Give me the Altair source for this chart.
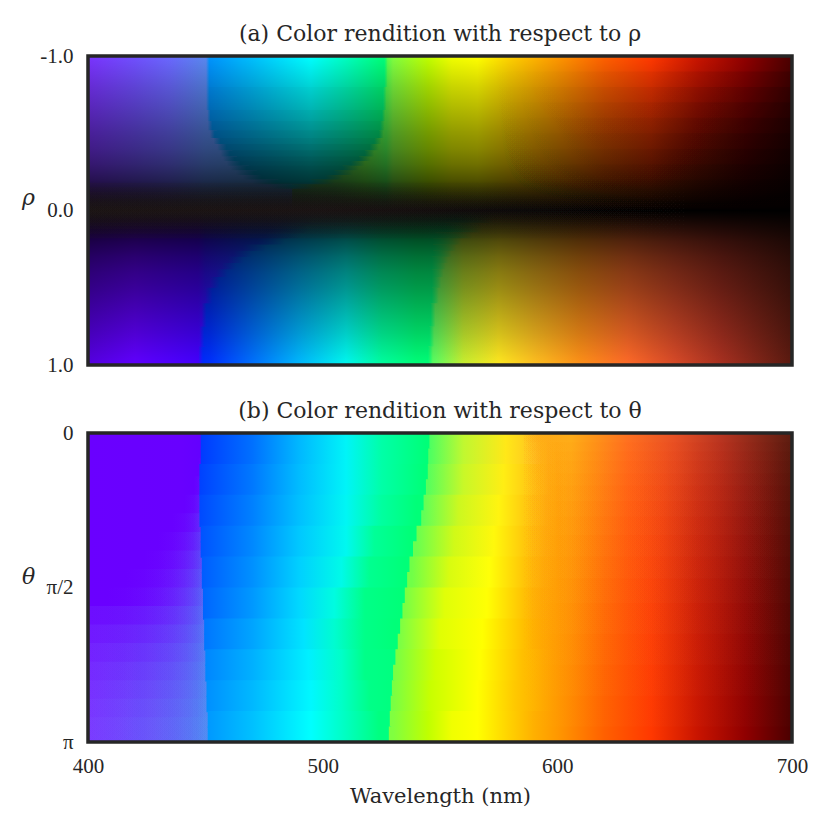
import altair as alt
import pandas as pd

INK = "#262626"
FONT = "Liberation Serif"
TFONT = "DejaVu Serif"

# panel (a) hue regions: colour stops "wavelength hex ..."
TOP_L = "400 7a33ff 420 7050ff 435 6a68ff 450 5a88f0 465 5090e0 490 4090d0"
TOP_M = "450 0090ff 470 00c0ff 495 00ffff 510 00ffc0 524 00ff80 530 00ff70"
TOP_R = "485 40a060 505 50c050 518 60e840 527 50ff50 530 80ff40 545 c0ff00 555 f0ff00 566 ffff00 580 ffd000 600 ff9800 620 ff6000 640 ff3800 660 c81400 680 900000 700 4a0000"
BOT_L = "400 5500e0 420 6000ff 447 4400ff 450 3010ff 470 1040ff 490 0060ff"
BOT_M = "447 0028ff 452 0030ff 470 0070ff 490 00b8ff 510 00f8f0 525 00ffa0 540 00ff78 570 00ff70"
BOT_R = "545 50ff60 548 60ff60 560 c8f030 575 ffe820 590 ffc020 610 ff9018 630 ff6a28 650 d84a28 670 a83020 700 5a1a10"

# rho at the band's start, left and right hue boundary, shade of the middle region, edge softness
TOP_RHO = [-1.0, -0.8, -0.65, -0.58, -0.52, -0.47, -0.43, -0.39, -0.35, -0.32, -0.29, -0.26, -0.23, -0.2, -0.17, -0.14, 0.0]
TOP_BL = [451, 451, 451.5, 452, 453, 455, 457, 458.5, 460, 462, 464, 467, 470, 475, 482, 487]
TOP_BR = [527, 526.5, 526, 525.5, 525, 523.5, 522, 520, 518, 515, 512, 509, 505, 500, 492, 487]
TOP_MS = [0, 0.02, 0.05, 0.08, 0.11, 0.14, 0.18, 0.22, 0.25, 0.27, 0.29, 0.3, 0.3, 0.3, 0.25, 0.25]
TOP_SOFT = [0.7, 0.7, 0.7, 1, 1, 1.5, 2, 2, 2.5, 3, 3.5, 4, 4, 5, 5, 0]
BOT_RHO = [0.0, 0.08, 0.14, 0.18, 0.22, 0.26, 0.3, 0.34, 0.38, 0.43, 0.5, 0.6, 0.75, 0.88, 1.0]
BOT_BL = [488, 486, 483, 478, 471, 466, 463, 460, 457, 454, 451.5, 449.5, 448.5, 448]
BOT_BR = [565, 560, 556, 553, 552, 551, 550, 549.5, 549, 548.5, 548, 547, 546.5, 546]
BOT_MS = [0] * 14
BOT_SOFT = [8, 8, 8, 6, 5, 4, 3.5, 3, 2.5, 2, 1.5, 1, 1, 1]

# darkening towards rho = 0
DARK_POS = [0, 0.1, 0.2, 0.25, 0.3, 0.35, 0.4, 0.425, 0.45, 0.475, 0.5, 0.525, 0.55, 0.575, 0.6, 0.65, 0.7, 0.75, 0.8, 0.9, 1]
DARK_ALPHA = [0, 0.17, 0.32, 0.4, 0.47, 0.56, 0.68, 0.76, 0.84, 0.92, 1, 0.92, 0.84, 0.76, 0.68, 0.56, 0.47, 0.4, 0.32, 0.17, 0]
# extra darkening of the long wavelengths, top half
EDGE_RHO = [-0.9, -0.8, -0.7, -0.6, -0.5, -0.4, -0.3, -0.2]
EDGE_STOPS = [(570, 0), (600, 0.015), (640, 0.045), (670, 0.09), (700, 0.13)]
# faint brown floor at rho = 0
FLOOR_RHO = [0.18, 0.15, 0.12, 0.1, 0.08, 0.06, 0.045, 0.03, 0.015]
FLOOR_STOPS = [(400, 0.12), (500, 0.11), (560, 0.06), (620, 0.015), (660, 0)]

# panel (b)
B_LEFT = "400 6a00ff 440 6800ff 447 6400ff 452 6000ff"
# lighter patch that grows to the left going down: start of rows, start wavelength, alpha there, alpha at 450
B_PATCH_F = [0.08, 0.14, 0.2, 0.26, 0.32, 0.38, 0.44, 0.5, 0.56, 0.62, 0.68, 0.74, 0.8, 0.86, 0.92]
B_PATCH_S = [447, 445, 441, 436, 430, 424, 416, 408, 400, 400, 400, 400, 400, 400, 400]
B_PATCH_A = [0, 0, 0, 0, 0, 0, 0, 0, 0.17, 0.17, 0.17, 0.17, 0.17, 0.17, 0.17]
B_PATCH_TOP = 0.16

B_MID = [
 "447 0038ff 470 0070ff 490 00b8ff 510 00f4f8 525 00ffa8 544 00ff78 560 00ff78",
 "447 0040ff 470 0078ff 490 00bcff 510 00f4f8 525 00ffa8 543 00ff78 560 00ff78",
 "447 0048ff 470 0080ff 490 00c0ff 510 00f6f4 525 00ffa0 540 00ff78 560 00ff78",
 "447 0050ff 470 0088ff 490 00c8ff 510 00f8f0 522 00ff98 537 00ff78 560 00ff78",
 "447 0058ff 470 0090ff 490 00d0ff 508 00fae8 520 00ff90 535 00ff78 560 00ff78",
 "447 0060ff 470 0098ff 490 00d8ff 505 00fce0 518 00ff88 533 00ff78 560 00ff78",
 "447 0070ff 470 00a4ff 492 00e4ff 505 00fcd0 518 00ff88 531 00ff78 560 00ff78",
 "447 0080ff 470 00b0ff 494 00f0ff 508 00ffc8 518 00ff88 529 00ff80 560 00ff80",
 "447 0088ff 470 00b8ff 495 00f8ff 508 00ffc8 520 00ff88 528 00ff80 560 00ff80",
 "447 0090ff 470 00c0ff 495 00ffff 510 00ffc0 524 00ff80 527 00ff80 560 00ff80",
]
B_TAIL = " 600 ff9800 620 ff6000 640 ff3800 660 c81400 680 900000 700 4a0000"
B_RIGHT = [
 "520 50ff60 546 50ff60 560 c0f830 578 ffe818 590 ffc420",
 "520 58ff5c 545 58ff5c 560 c8f828 577 ffee14 590 ffc214",
 "520 60ff58 543 60ff58 558 ccf820 575 fff410 590 ffbc10",
 "520 68ff50 540 68ff50 556 d0fa18 573 fff80c 590 ffb80c",
 "520 70ff48 538 70ff48 554 d8fc10 571 ffff08 590 ffb408",
 "520 78ff44 535 78ff44 552 e0ff08 570 ffff04 590 ffb004",
 "520 7cff44 533 7cff44 550 e0ff04 568 ffff00 590 ffb000",
 "520 78ff44 531 78ff44 548 d0ff00 567 ffff00 585 ffc000 590 ffb400",
 "520 78ff44 530 78ff44 546 c8ff00 566 ffff00 582 ffc800 590 ffb400",
 "520 80ff40 530 80ff40 545 c0ff00 555 f0ff00 566 ffff00 580 ffd000 590 ffb000",
]
# brown top right: wavelength and colour, and where each fade band ends
B_FADE_STOPS = [(606, "255,172,24"), (615, "255,150,24"), (630, "255,112,32"), (650, "232,80,36"), (670, "184,52,32"), (700, "92,28,16")]
B_FADE_F = [0.95, 0.85, 0.75, 0.65, 0.55, 0.47, 0.4, 0.33, 0.27, 0.22, 0.17, 0.13, 0.09, 0.06, 0.03]
# boundaries per 1/20 of the panel height
B_BLUE = [448, 448, 447.5, 447.5, 447.5, 447.5, 448, 448, 448.5, 448.5, 449, 449, 449.5, 449.5, 450, 450, 450.5, 450.5, 451, 451]
B_GREEN = [545.5, 545, 544.8, 544, 543, 542, 540, 538.5, 537, 536, 535, 534, 533, 532, 531, 530, 529.5, 529, 528.6, 528.2]

X_TICKS = [400, 500, 600, 700]
RHO_TICKS = [-1, 0, 1]
THETA_TICKS = [0, 0.5, 1]
TITLE_A = "(a) Color rendition with respect to ρ"
TITLE_B = "(b) Color rendition with respect to θ"
XLABEL = "Wavelength (nm)"


def grad(spec, xa=400, xb=700):
    parts = spec.split()
    stops = [alt.GradientStop(color="#" + parts[i + 1], offset=(float(parts[i]) - 400) / 300)
             for i in range(0, len(parts), 2)]
    w = xb - xa
    return alt.LinearGradient(gradient="linear", stops=stops, x1=(400 - xa) / w, x2=(700 - xa) / w, y1=0, y2=0)


def rgba_grad(triples, xa=400, xb=700):
    stops = [alt.GradientStop(color=f"rgba({c},{a})", offset=(w - xa) / (xb - xa)) for w, c, a in triples]
    return alt.LinearGradient(gradient="linear", stops=stops, x1=0, x2=1, y1=0, y2=0)


def soft_grad(spec, a, b, s, shade):
    """Middle region's gradient with its two sides fading out over s nanometres."""
    parts = spec.split()
    pts = [(float(parts[i]), parts[i + 1]) for i in range(0, len(parts), 2)]

    def col(x):
        rgb = [tuple(int(h[k:k + 2], 16) for k in (0, 2, 4)) for _, h in pts]
        if x <= pts[0][0]:
            c = rgb[0]
        elif x >= pts[-1][0]:
            c = rgb[-1]
        else:
            for i in range(len(pts) - 1):
                if pts[i][0] <= x <= pts[i + 1][0]:
                    t = (x - pts[i][0]) / (pts[i + 1][0] - pts[i][0])
                    c = tuple(rgb[i][k] + t * (rgb[i + 1][k] - rgb[i][k]) for k in range(3))
                    break
        return ",".join(str(round(v * (1 - shade))) for v in c)

    inner_a, inner_b = a + s, b - s
    if inner_a > inner_b:
        inner_a = inner_b = (a + b) / 2
    xs = [inner_a] + [w for w, _ in pts if inner_a < w < inner_b] + ([inner_b] if inner_b > inner_a else [])
    tr = [(a - s, col(a - s), 0)] + [(x, col(x), 1) for x in xs] + [(b + s, col(b + s), 0)]
    return rgba_grad(tr, a - s, b + s)


axis_common = dict(ticks=False, domain=False, grid=False, labelFont=FONT, labelFontSize=21,
                   labelColor=INK, titleFont=TFONT, titleColor=INK, titleFontWeight="normal",
                   labelFlush=False)
y_a = alt.Axis(values=RHO_TICKS, title="ρ", titleAngle=0, titleX=-60, titleY=141,
               labelExpr="datum.value == -1 ? '-1.0' : datum.value == 0 ? '0.0' : '1.0'",
               titleAlign="center", titleBaseline="middle", titleFontSize=22, titleFontStyle="italic",
               labelPadding=15, labelOverlap=False, **axis_common)
y_b = alt.Axis(values=THETA_TICKS, title="θ", titleAngle=0, titleX=-60, titleY=143,
               labelExpr="datum.value == 0 ? '0' : datum.value == 1 ? 'π' : 'π/2'",
               titleAlign="center", titleBaseline="middle", titleFontSize=22, titleFontStyle="italic",
               labelPadding=15, labelOverlap=False, **axis_common)
x_b = alt.Axis(values=X_TICKS, format="d", labelPadding=13, title=XLABEL, titleFontSize=21, titlePadding=9,
               labelOverlap=False, **axis_common)


def maker(ydom, yaxis, xaxis):
    xs = alt.Scale(domain=[400, 700], nice=False, zero=False)
    ys = alt.Scale(domain=ydom, nice=False, zero=False)

    def rect(lo, hi, xa, xb, **mark):
        df = pd.DataFrame({"a": [xa], "b": [xb], "lo": [lo], "hi": [hi]})
        return alt.Chart(df).mark_rect(**mark).encode(
            x=alt.X("a:Q", scale=xs, axis=xaxis),
            x2="b:Q",
            y=alt.Y("lo:Q", scale=ys, axis=yaxis),
            y2="hi:Q",
        )
    return rect


def title(text):
    return alt.TitleParams(text, font=TFONT, fontSize=22, fontWeight="normal", color=INK, offset=-1)


# panel (a)
rect_a = maker([1, -1], y_a, None)
layers_a = []
for edges, bl, br, ms, sf, L, M, R in [
    (TOP_RHO, TOP_BL, TOP_BR, TOP_MS, TOP_SOFT, TOP_L, TOP_M, TOP_R),
    (BOT_RHO, BOT_BL, BOT_BR, BOT_MS, BOT_SOFT, BOT_L, BOT_M, BOT_R),
]:
    for i in range(len(bl)):
        lo, hi = edges[i], min(edges[i + 1] + 0.008, 1)
        a, b, s = bl[i], br[i], sf[i]
        la, rb = a + s + 1, b - s
        if b <= a:
            la, rb = a + 1, b
        layers_a.append(rect_a(lo, hi, 400, la, color=grad(L, 400, la)))
        layers_a.append(rect_a(lo, hi, rb, 700, color=grad(R, rb, 700)))
        if b > a:
            layers_a.append(rect_a(lo, hi, a - s, b + s, color=soft_grad(M, a, b, s, ms[i])))

dark = [alt.GradientStop(color=f"rgba(0,0,0,{v})", offset=p) for p, v in zip(DARK_POS, DARK_ALPHA)]
layers_a.append(rect_a(-1, 1, 400, 700, color=alt.LinearGradient(gradient="linear", stops=dark, x1=0, x2=0, y1=0, y2=1)))
for r in EDGE_RHO:
    layers_a.append(rect_a(r, 0, 400, 700, color=rgba_grad([(w, "0,0,0", v) for w, v in EDGE_STOPS])))
for r in FLOOR_RHO:
    layers_a.append(rect_a(-r, r, 400, 700, color=rgba_grad([(w, "40,30,30", v) for w, v in FLOOR_STOPS])))
layers_a.append(rect_a(-1, 1, 400, 700, fillOpacity=0, stroke=INK, strokeWidth=3.5))
top = alt.layer(*layers_a).properties(width=704, height=309, title=title(TITLE_A))

# panel (b)
rect_b = maker([1, 0], y_b, x_b)
layers_b = [rect_b(0, 1, 400, 452, color=grad(B_LEFT, 400, 452))]
for f, s, a0 in zip(B_PATCH_F, B_PATCH_S, B_PATCH_A):
    tr = [(400, "130,80,255", a0), (s, "130,80,255", a0), (450, "80,150,240", B_PATCH_TOP), (452, "80,150,240", B_PATCH_TOP)]
    layers_b.append(rect_b(f, 1, 400, 452, color=rgba_grad(tr, 400, 452)))
for i, (b, g) in enumerate(zip(B_BLUE, B_GREEN)):
    lo, hi = i / 20, min((i + 1) / 20 + 0.004, 1)
    layers_b.append(rect_b(lo, hi, b, g + 1, color=grad(B_MID[i // 2], b, g + 1)))
    layers_b.append(rect_b(lo, hi, g, 700, color=grad(B_RIGHT[i // 2] + B_TAIL, g, 700)))
n = len(B_FADE_F)
for j, f in enumerate(B_FADE_F):
    a = 1 / (n - j)
    tr = [(585, B_FADE_STOPS[0][1], 0)] + [(w, c, round(a, 4)) for w, c in B_FADE_STOPS]
    layers_b.append(rect_b(0, f, 585, 700, color=rgba_grad(tr, 585, 700)))
layers_b.append(rect_b(0, 1, 400, 700, fillOpacity=0, stroke=INK, strokeWidth=3.5))
bottom = alt.layer(*layers_b).properties(width=704, height=309, title=title(TITLE_B))

chart = alt.vconcat(top, bottom, spacing=25).resolve_scale(x="independent", y="independent").properties(
    background="white", padding={"left": 13, "top": 15, "right": 0, "bottom": 2}
).configure_view(strokeWidth=0)

chart.save("out.html", embed_options={"renderer": "svg", "actions": False})
